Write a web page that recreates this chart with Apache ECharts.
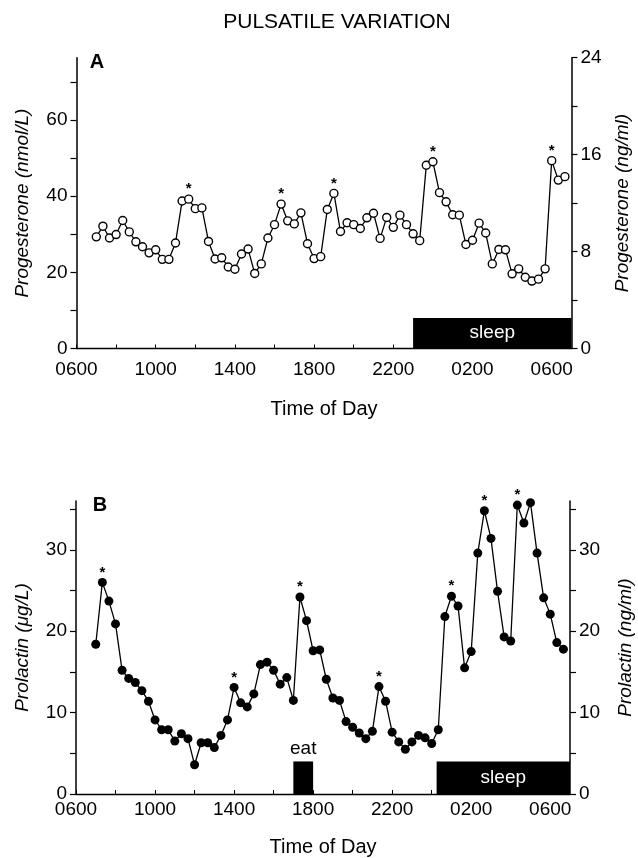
<!DOCTYPE html>
<html>
<head>
<meta charset="utf-8">
<script src="https://cdn.jsdelivr.net/npm/echarts@6/dist/echarts.min.js"></script>
<style>
html, body { margin: 0; padding: 0; background: #fff; }
#main { width: 638px; height: 858px; }
</style>
</head>
<body>
<div id="main"></div>
<script>
// sampling times (every 20 min, 0700 -> 0640 next morning)
var sampleTimes = [
  '07:00','07:20','07:40','08:00','08:20','08:40','09:00','09:20','09:40','10:00','10:20','10:40',
  '11:00','11:20','11:40','12:00','12:20','12:40','13:00','13:20','13:40','14:00','14:20','14:40',
  '15:00','15:20','15:40','16:00','16:20','16:40','17:00','17:20','17:40','18:00','18:20','18:40',
  '19:00','19:20','19:40','20:00','20:20','20:40','21:00','21:20','21:40','22:00','22:20','22:40',
  '23:00','23:20','23:40','00:00','00:20','00:40','01:00','01:20','01:40','02:00','02:20','02:40',
  '03:00','03:20','03:40','04:00','04:20','04:40','05:00','05:20','05:40','06:00','06:20','06:40'
];
// progesterone, nmol/L
var progesterone = [
  29.3, 32.1, 29.0, 29.9, 33.6, 30.6, 28.0, 26.7, 25.1, 25.9, 23.4, 23.4,
  27.7, 38.7, 39.2, 36.7, 36.9, 28.1, 23.5, 23.8, 21.4, 20.8, 24.8, 26.1,
  19.7, 22.2, 29.0, 32.5, 37.9, 33.5, 32.7, 35.6, 27.5, 23.6, 24.1, 36.5,
  40.7, 30.7, 33.0, 32.5, 31.5, 34.3, 35.5, 28.9, 34.4, 31.8, 35.0, 32.5,
  30.1, 28.3, 48.1, 49.0, 40.9, 38.5, 35.1, 35.0, 27.3, 28.4, 32.9, 30.3,
  22.2, 26.0, 25.9, 19.6, 20.9, 18.7, 17.7, 18.2, 20.9, 49.3, 44.2, 45.1
];
// prolactin, ug/L
var prolactin = [
  18.4, 26.0, 23.7, 20.9, 15.2, 14.2, 13.7, 12.7, 11.4, 9.1, 7.9, 7.9,
  6.5, 7.4, 6.8, 3.6, 6.3, 6.3, 5.7, 7.2, 9.1, 13.1, 11.2, 10.7,
  12.3, 15.9, 16.2, 15.2, 13.5, 14.3, 11.5, 24.2, 21.3, 17.6, 17.7, 14.1,
  11.8, 11.5, 8.9, 8.2, 7.5, 6.8, 7.7, 13.2, 11.4, 7.6, 6.4, 5.5,
  6.4, 7.2, 6.9, 6.2, 7.9, 21.8, 24.3, 23.1, 15.5, 17.5, 29.6, 34.8,
  31.4, 24.9, 19.3, 18.8, 35.5, 33.3, 35.8, 29.6, 24.1, 22.1, 18.6, 17.8
];
// pulses marked with an asterisk (sample index)
var progPeaks = [14, 28, 36, 51, 69];
var prolPeaks = [1, 21, 31, 43, 54, 59, 64];

// axis ticks / labels
var hourTicks = [6, 8, 10, 12, 14, 16, 18, 20, 22, 24, 26, 28, 30];
var hourLabels = [6, 10, 14, 18, 22, 26, 30];
var nmolTicks = [0, 10, 20, 30, 40, 50, 60, 70];
var nmolLabels = [0, 20, 40, 60];
var ngTicks = [0, 4, 8, 12, 16, 20, 24];
var ngLabels = [0, 8, 16, 24];
var prolTicks = [0, 5, 10, 15, 20, 25, 30, 35];
var prolLabels = [0, 10, 20, 30];

// activity bars: [start hour, end hour, height]
var sleepA = [23, 31, 8];
var sleepB = [24.25, 31, 4];
var eatB = [17, 18, 4];

var NG_TO_NMOL = 3.18;
var FONT = 'Liberation Sans, Arial, Helvetica, sans-serif';

function toHour(t) {
  var h = +t.slice(0, 2) + t.slice(3) / 60;
  return h < 6.9 ? h + 24 : h;
}
function clock(v) {
  var h = v % 24;
  return (h < 10 ? '0' : '') + h + '00';
}
function buildData(values, peaks) {
  return values.map(function (v, i) {
    var item = { value: [toHour(sampleTimes[i]), v] };
    if (peaks.indexOf(i) >= 0) {
      item.label = {
        show: true, formatter: '*', position: 'inside', offset: [0, -10],
        fontSize: 15, fontWeight: 'bold', color: '#000', fontFamily: FONT
      };
    }
    return item;
  });
}
function xAxisFor(grid, margin, gap) {
  return {
    type: 'value', gridIndex: grid, min: 6, max: 31,
    name: 'Time of Day', nameLocation: 'middle', nameGap: gap,
    nameTextStyle: { fontSize: 20, color: '#000', fontFamily: FONT },
    axisLine: { show: true, onZero: false, lineStyle: { color: '#000', width: 1.3 } },
    axisTick: { show: true, inside: true, length: 4, customValues: hourTicks, lineStyle: { color: '#000' } },
    axisLabel: { customValues: hourLabels, formatter: clock, margin: margin, fontSize: 19, color: '#000', fontFamily: FONT },
    splitLine: { show: false }
  };
}
function yAxisFor(grid, pos, max, ticks, labels, name, gap) {
  return {
    type: 'value', gridIndex: grid, position: pos, min: 0, max: max,
    name: name, nameLocation: 'middle', nameRotate: 90, nameGap: gap,
    nameTextStyle: { fontSize: 19, fontStyle: 'italic', color: '#000', fontFamily: FONT },
    axisLine: { show: true, onZero: false, lineStyle: { color: '#000', width: 1.5 } },
    axisTick: { show: true, length: 6, customValues: ticks, lineStyle: { color: '#000', width: 1.2 } },
    axisLabel: { customValues: labels, margin: 9, fontSize: 19, color: '#000', fontFamily: FONT },
    splitLine: { show: false }
  };
}
function bar(range, text, labelPos, labelColor) {
  return [
    { xAxis: range[0], yAxis: 0,
      label: { show: true, formatter: text, position: labelPos, color: labelColor, fontSize: 19, fontFamily: FONT, distance: 3 } },
    { xAxis: range[1], yAxis: range[2] }
  ];
}

var chart = echarts.init(document.getElementById('main'));
chart.setOption({
  animation: false,
  backgroundColor: '#fff',
  grid: [
    { left: 76.5, right: 66.5, top: 57.7, bottom: 509.5, outerBoundsMode: 'none' },
    { left: 76, right: 68, top: 501, bottom: 64, outerBoundsMode: 'none' }
  ],
  graphic: [
    { type: 'text', x: 337, y: 22, style: { text: 'PULSATILE VARIATION', fontSize: 21, fontFamily: FONT, fill: '#000', textAlign: 'center', textVerticalAlign: 'middle' } },
    { type: 'text', x: 97, y: 62, style: { text: 'A', fontSize: 20, fontWeight: 'bold', fontFamily: FONT, fill: '#000', textAlign: 'center', textVerticalAlign: 'middle' } },
    { type: 'text', x: 100, y: 505, style: { text: 'B', fontSize: 20, fontWeight: 'bold', fontFamily: FONT, fill: '#000', textAlign: 'center', textVerticalAlign: 'middle' } }
  ],
  xAxis: [xAxisFor(0, 12, 51), xAxisFor(1, 6, 43)],
  yAxis: [
    yAxisFor(0, 'left', 24 * NG_TO_NMOL, nmolTicks, nmolLabels, 'Progesterone (nmol/L)', 44),
    yAxisFor(0, 'right', 24, ngTicks, ngLabels, 'Progesterone (ng/ml)', 42),
    yAxisFor(1, 'left', 36, prolTicks, prolLabels, 'Prolactin (\u03bcg/L)', 44),
    yAxisFor(1, 'right', 36, prolTicks, prolLabels, 'Prolactin (ng/ml)', 46)
  ],
  series: [
    {
      type: 'line', xAxisIndex: 0, yAxisIndex: 0,
      data: buildData(progesterone, progPeaks),
      symbol: 'circle', symbolSize: 8,
      lineStyle: { color: '#000', width: 1.3 },
      itemStyle: { color: '#fff', borderColor: '#000', borderWidth: 1.4 },
      emphasis: { disabled: true },
      markArea: { silent: true, itemStyle: { color: '#000', opacity: 1 }, data: [bar(sleepA, 'sleep', 'inside', '#fff')] }
    },
    {
      type: 'line', xAxisIndex: 1, yAxisIndex: 2,
      data: buildData(prolactin, prolPeaks),
      symbol: 'circle', symbolSize: 9,
      lineStyle: { color: '#000', width: 1.3 },
      itemStyle: { color: '#000', borderColor: '#000', borderWidth: 0 },
      emphasis: { disabled: true },
      markArea: {
        silent: true, itemStyle: { color: '#000', opacity: 1 },
        data: [bar(sleepB, 'sleep', 'inside', '#fff'), bar(eatB, 'eat', 'top', '#000')]
      }
    }
  ]
});
</script>
</body>
</html>
